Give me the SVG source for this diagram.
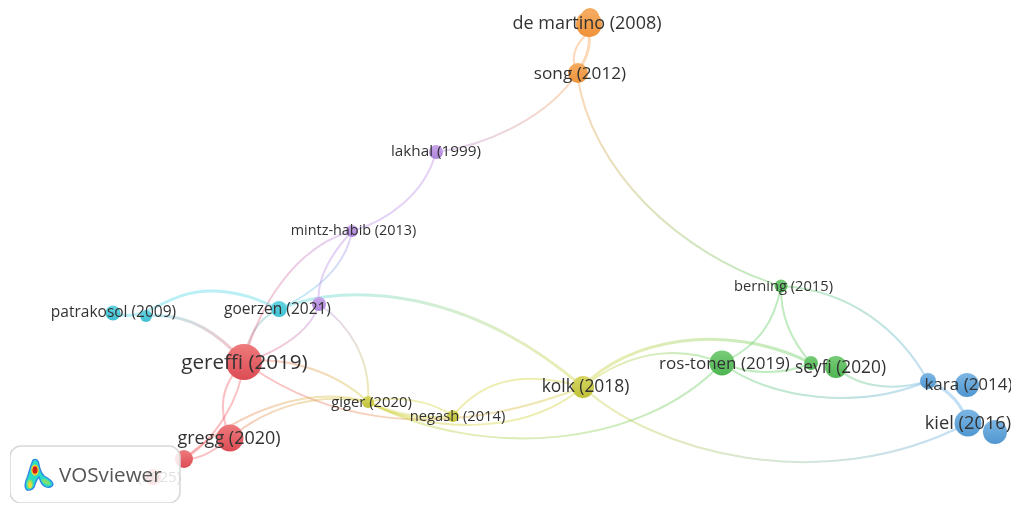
<svg xmlns="http://www.w3.org/2000/svg" width="1011" height="505" viewBox="0 0 1011 505">
<style>
text{font-family:"Open Sans","Liberation Sans",sans-serif;fill:#333}
#edges path{fill:none;stroke-width:2;stroke-opacity:.4;stroke-linecap:round}
#edges path.w{stroke-width:3}
.o{stroke:#f5a04e}.p{stroke:#b98fe6}.c{stroke:#4fd6e6}.r{stroke:#f4606a}.y{stroke:#d2d23c}.g{stroke:#62cc62}.b{stroke:#66aee6}
.nr{fill:url(#fr)}.no{fill:url(#fo)}.np{fill:url(#fp)}.nc{fill:url(#fc)}.ny{fill:url(#fy)}.ng{fill:url(#fg)}.nb{fill:url(#fb)}
</style>
<defs>
<filter id="soft" x="0" y="0" width="100%" height="100%"><feGaussianBlur stdDeviation="0.35"/></filter>
<linearGradient id="fr" x1="0" y1="0" x2="0" y2="1"><stop offset="0" stop-color="#ee7a7c"/><stop offset="1" stop-color="#dc4c54"/></linearGradient>
<linearGradient id="fo" x1="0" y1="0" x2="0" y2="1"><stop offset="0" stop-color="#f6ac62"/><stop offset="1" stop-color="#ee9238"/></linearGradient>
<linearGradient id="fp" x1="0" y1="0" x2="0" y2="1"><stop offset="0" stop-color="#c8a6ea"/><stop offset="1" stop-color="#ad84da"/></linearGradient>
<linearGradient id="fc" x1="0" y1="0" x2="0" y2="1"><stop offset="0" stop-color="#66d4e2"/><stop offset="1" stop-color="#3dbfd2"/></linearGradient>
<linearGradient id="fy" x1="0" y1="0" x2="0" y2="1"><stop offset="0" stop-color="#d6d662"/><stop offset="1" stop-color="#c0c038"/></linearGradient>
<linearGradient id="fg" x1="0" y1="0" x2="0" y2="1"><stop offset="0" stop-color="#78cc78"/><stop offset="1" stop-color="#4eb552"/></linearGradient>
<linearGradient id="fb" x1="0" y1="0" x2="0" y2="1"><stop offset="0" stop-color="#7cb6e4"/><stop offset="1" stop-color="#5097d0"/></linearGradient>
<linearGradient id="op" gradientUnits="userSpaceOnUse" x1="577" y1="73" x2="436" y2="152"><stop offset="0" stop-color="#f5a04e"/><stop offset="1" stop-color="#b98fe6"/></linearGradient>
<linearGradient id="og" gradientUnits="userSpaceOnUse" x1="577" y1="73" x2="781" y2="286"><stop offset="0" stop-color="#f5a04e"/><stop offset="1" stop-color="#62cc62"/></linearGradient>
<linearGradient id="pr" gradientUnits="userSpaceOnUse" x1="352" y1="231" x2="244" y2="362"><stop offset="0" stop-color="#b98fe6"/><stop offset="1" stop-color="#f4606a"/></linearGradient>
<linearGradient id="pr2" gradientUnits="userSpaceOnUse" x1="319" y1="304" x2="244" y2="362"><stop offset="0" stop-color="#b98fe6"/><stop offset="1" stop-color="#f4606a"/></linearGradient>
<linearGradient id="py" gradientUnits="userSpaceOnUse" x1="319" y1="304" x2="368" y2="402"><stop offset="0" stop-color="#b98fe6"/><stop offset="1" stop-color="#d2d23c"/></linearGradient>
<linearGradient id="pc" gradientUnits="userSpaceOnUse" x1="352" y1="231" x2="279" y2="309"><stop offset="0" stop-color="#b98fe6"/><stop offset="1" stop-color="#4fd6e6"/></linearGradient>
<linearGradient id="cy" gradientUnits="userSpaceOnUse" x1="279" y1="309" x2="583" y2="387"><stop offset="0" stop-color="#4fd6e6"/><stop offset="1" stop-color="#d2d23c"/></linearGradient>
<linearGradient id="cr" gradientUnits="userSpaceOnUse" x1="146" y1="316" x2="244" y2="362"><stop offset="0" stop-color="#4fd6e6"/><stop offset="1" stop-color="#f4606a"/></linearGradient>
<linearGradient id="cr2" gradientUnits="userSpaceOnUse" x1="279" y1="309" x2="244" y2="362"><stop offset="0" stop-color="#4fd6e6"/><stop offset="1" stop-color="#f4606a"/></linearGradient>
<linearGradient id="ry" gradientUnits="userSpaceOnUse" x1="244" y1="362" x2="368" y2="402"><stop offset="0" stop-color="#f4606a"/><stop offset="1" stop-color="#d2d23c"/></linearGradient>
<linearGradient id="ry2" gradientUnits="userSpaceOnUse" x1="244" y1="362" x2="583" y2="387"><stop offset="0" stop-color="#f4606a"/><stop offset="1" stop-color="#d2d23c"/></linearGradient>
<linearGradient id="ry3" gradientUnits="userSpaceOnUse" x1="184" y1="459" x2="368" y2="402"><stop offset="0" stop-color="#f4606a"/><stop offset="1" stop-color="#d2d23c"/></linearGradient>
<linearGradient id="yg" gradientUnits="userSpaceOnUse" x1="583" y1="387" x2="722" y2="363"><stop offset="0" stop-color="#d2d23c"/><stop offset="1" stop-color="#62cc62"/></linearGradient>
<linearGradient id="yg2" gradientUnits="userSpaceOnUse" x1="583" y1="387" x2="811" y2="363"><stop offset="0" stop-color="#d2d23c"/><stop offset="1" stop-color="#62cc62"/></linearGradient>
<linearGradient id="yg3" gradientUnits="userSpaceOnUse" x1="368" y1="402" x2="722" y2="363"><stop offset="0" stop-color="#d2d23c"/><stop offset="1" stop-color="#62cc62"/></linearGradient>
<linearGradient id="yb" gradientUnits="userSpaceOnUse" x1="583" y1="387" x2="968" y2="423"><stop offset="0" stop-color="#d2d23c"/><stop offset="1" stop-color="#66aee6"/></linearGradient>
<linearGradient id="gb" gradientUnits="userSpaceOnUse" x1="722" y1="363" x2="928" y2="381"><stop offset="0" stop-color="#62cc62"/><stop offset="1" stop-color="#66aee6"/></linearGradient>
<linearGradient id="gb2" gradientUnits="userSpaceOnUse" x1="836" y1="367" x2="928" y2="381"><stop offset="0" stop-color="#62cc62"/><stop offset="1" stop-color="#66aee6"/></linearGradient>
<linearGradient id="gb3" gradientUnits="userSpaceOnUse" x1="781" y1="286" x2="928" y2="381"><stop offset="0" stop-color="#62cc62"/><stop offset="1" stop-color="#66aee6"/></linearGradient>
</defs>
<g filter="url(#soft)">
<g id="edges">
<path class="o" d="M586,35C572,48 572,62 577,73"/>
<path class="o w" d="M589,35C591,50 584,62 577,73"/>
<path stroke="url(#op)" d="M577,73C550,115 490,145 436,152"/>
<path stroke="url(#og)" d="M577,73C590,170 680,255 781,286"/>
<path class="p" d="M436,152C425,195 385,222 352,231"/>
<path stroke="url(#pc)" d="M352,231C345,270 310,295 279,309"/>
<path class="p" d="M352,231C330,255 316,280 319,304"/>
<path stroke="url(#pr)" d="M352,231C300,245 260,300 244,362"/>
<path stroke="url(#pr2)" d="M319,304C310,335 270,355 244,362"/>
<path stroke="url(#py)" d="M319,304C350,325 371,360 368,402"/>
<path stroke="url(#cr2)" d="M279,309C255,320 247,340 244,362"/>
<path stroke="url(#cy)" class="w" d="M279,309C350,280 470,290 583,387"/>
<path class="c w" d="M113,313C145,325 165,291 210,291C240,291 260,300 279,309"/>
<path stroke="url(#cr)" class="w" d="M146,316C190,312 220,335 244,362"/>
<path class="r" d="M244,362C220,385 218,410 230,438"/>
<path class="r" d="M244,362C240,400 215,440 184,459"/>
<path stroke="url(#ry)" d="M244,362C290,355 340,375 368,402"/>
<path stroke="url(#ry2)" d="M244,362C310,410 420,450 583,387"/>
<path stroke="url(#ry3)" d="M230,438C270,405 320,392 368,402"/>
<path stroke="url(#ry3)" d="M184,459C240,410 310,385 368,402"/>
<path class="r" d="M184,459C200,460 215,450 230,438"/>
<path class="y" d="M368,402C395,395 430,400 453,416"/>
<path class="y w" d="M368,402C395,415 425,420 453,416"/>
<path class="y" d="M453,416C490,370 540,375 583,387"/>
<path class="y" d="M368,402C420,430 520,440 583,387"/>
<path class="w" stroke="url(#yg2)" d="M583,387C625,340 725,320 811,363"/>
<path stroke="url(#yg)" d="M583,387C630,350 680,345 722,363"/>
<path stroke="url(#yb)" d="M583,387C650,450 820,500 968,423"/>
<path stroke="url(#yg3)" d="M722,363C640,450 480,460 368,402"/>
<path class="g" d="M722,363C760,345 775,320 781,286"/>
<path class="g" d="M781,286C780,320 795,345 811,363"/>
<path class="g" d="M722,363C750,375 785,375 811,363"/>
<path stroke="url(#gb)" d="M722,363C770,400 860,410 928,381"/>
<path stroke="url(#gb2)" d="M836,367C860,390 900,390 928,381"/>
<path stroke="url(#gb3)" d="M781,286C850,290 900,330 928,381"/>
<path class="b w" d="M928,381C950,390 962,405 968,423"/>
</g>
<g id="n-demartino2"><circle class="no" cx="590" cy="17" r="9"/></g>
<g id="n-demartino"><circle class="no" cx="589" cy="24" r="13"/><text x="587" y="29" font-size="18" text-anchor="middle">de martino (2008)</text></g>
<g id="n-song"><circle class="no" cx="578" cy="73" r="10"/><text x="580" y="79" font-size="17.200" text-anchor="middle">song (2012)</text></g>
<g id="n-lakhal"><circle class="np" cx="436" cy="152" r="7"/><text x="436" y="156" font-size="15.300" text-anchor="middle">lakhal (1999)</text></g>
<g id="n-mintz"><circle class="np" cx="352" cy="231" r="6"/><text x="353.500" y="235" font-size="14.400" text-anchor="middle">mintz-habib (2013)</text></g>
<g id="n-purple"><circle class="np" cx="319" cy="304" r="7"/></g>
<g id="n-goerzen"><circle class="nc" cx="279" cy="309" r="8"/><text x="277.500" y="314" font-size="15.500" text-anchor="middle">goerzen (2021)</text></g>
<g id="n-patrakosol2"><circle class="nc" cx="146" cy="316" r="6"/></g>
<g id="n-patrakosol"><circle class="nc" cx="113" cy="313" r="7.500"/><text x="113.500" y="317" font-size="15.500" text-anchor="middle">patrakosol (2009)</text></g>
<g id="n-gereffi"><circle class="nr" cx="244" cy="362" r="18"/><text x="244.500" y="369" font-size="20.600" text-anchor="middle">gereffi (2019)</text></g>
<g id="n-gregg"><circle class="nr" cx="230" cy="438" r="13.500"/><text x="229" y="444" font-size="18" text-anchor="middle">gregg (2020)</text></g>
<g id="n-red"><circle cx="184" cy="459" r="9" class="nr"/></g>
<g id="n-faded"><circle class="nr" cx="153" cy="477" r="8"/><text x="181" y="482" font-size="15" text-anchor="end">(2025)</text></g>
<g id="n-giger"><circle class="ny" cx="368" cy="402" r="6"/><text x="371.500" y="407" font-size="14.800" text-anchor="middle">giger (2020)</text></g>
<g id="n-negash"><circle class="ny" cx="453" cy="416" r="6"/><text x="457.500" y="421" font-size="14.700" text-anchor="middle">negash (2014)</text></g>
<g id="n-kolk"><circle class="ny" cx="583" cy="387" r="11"/><text x="585.500" y="392" font-size="17.400" text-anchor="middle">kolk (2018)</text></g>
<g id="n-rostonen"><circle class="ng" cx="722" cy="363" r="12.500"/><text x="724.500" y="369" font-size="17" text-anchor="middle">ros-tonen (2019)</text></g>
<g id="n-berning"><circle class="ng" cx="781" cy="286" r="6.500"/><text x="783.500" y="291" font-size="14.700" text-anchor="middle">berning (2015)</text></g>
<g id="n-seyfi2"><circle class="ng" cx="811" cy="363" r="7"/></g>
<g id="n-seyfi"><circle class="ng" cx="836" cy="367" r="11"/><text x="840.500" y="373" font-size="17.300" text-anchor="middle">seyfi (2020)</text></g>
<g id="n-kara2"><circle class="nb" cx="928" cy="381" r="8"/></g>
<g id="n-kara"><circle class="nb" cx="967" cy="385" r="12"/><text x="968.500" y="390" font-size="17" text-anchor="middle">kara (2014)</text></g>
<g id="n-kiel2"><circle class="nb" cx="995" cy="432" r="12"/></g>
<g id="n-kiel"><circle class="nb" cx="968" cy="423" r="13.500"/><text x="968" y="429" font-size="18.300" text-anchor="middle">kiel (2016)</text></g>
<g id="logo">
<rect x="10" y="446" width="170" height="57" rx="11" fill="#fff" fill-opacity=".85" stroke="#d8d8d8" stroke-width="1.500"/>
<path d="M33,460C36,458 39,461 39,465C40,470 41,473 44,476C48,478 52,481 53,484C52,488 47,488 44,486C41,484 40,480 39,477C37,479 36,481 35,484C35,488 31,491 27,490C24,488 25,482 27,478C29,473 30,467 33,460Z" fill="#2adcc4" stroke="#2f86e6" stroke-width="1.300"/>
<ellipse cx="46" cy="482" rx="4.500" ry="2" transform="rotate(30 46 482)" fill="#7fe070"/>
<ellipse cx="30" cy="484" rx="2.800" ry="4.500" fill="#8fe060"/>
<ellipse cx="30" cy="485" rx="1.800" ry="3" fill="#eedc3c"/>
<ellipse cx="35" cy="470" rx="3.800" ry="5.500" fill="#f2d030"/>
<ellipse cx="35" cy="470" rx="2.500" ry="3.800" fill="#d0201c"/>
<text x="59" y="482" font-size="20.600" style="fill:#555">VOSviewer</text>
</g>
</g>
</svg>
